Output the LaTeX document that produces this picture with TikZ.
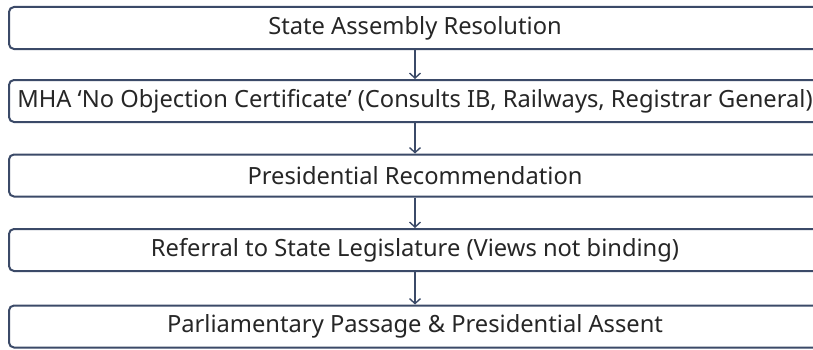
\documentclass[tikz,border=0pt]{standalone}
\usepackage{fontspec}
\setmainfont{Noto Sans}
\usetikzlibrary{arrows.meta}
\definecolor{boxline}{HTML}{3B4A68}
\definecolor{boxtext}{HTML}{262626}
\begin{document}
\begin{tikzpicture}[x=1pt,y=1pt,
    stage/.style={draw=boxline,line width=2pt,rounded corners=5pt,fill=white,
      minimum width=812pt,minimum height=42pt,inner sep=0pt,
      text=boxtext,font=\fontsize{23.7}{27}\selectfont}]
  \useasboundingbox (0,0) rectangle (813,349);
  \clip (0,0) rectangle (813,349);
  \draw
    (415,321) node[stage] (0){State Assembly Resolution}
    (415,248) node[stage] (1){MHA ‘No Objection Certificate’ (Consults IB, Railways, Registrar General)}
    (415,173.5) node[stage] (2){Presidential Recommendation}
    (415,99) node[stage] (3){Referral to State Legislature (Views not binding)}
    (415,22.5) node[stage] (4){Parliamentary Passage \& Presidential Assent};
  \begin{scope}[draw=boxline,line width=1.4pt,-{Straight Barb[length=5pt,width=11pt]}]
    \draw (0) to (1);
    \draw (1) to (2);
    \draw (2) to (3);
    \draw (3) to (4);
  \end{scope}
\end{tikzpicture}
\end{document}
